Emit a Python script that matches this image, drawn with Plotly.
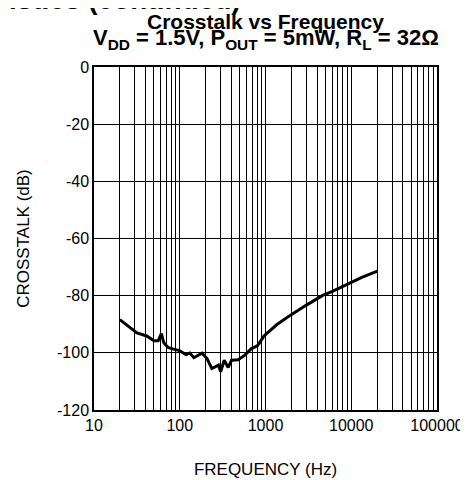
import plotly.graph_objects as go

freq_hz = [20, 31.7, 41.2, 50, 56, 61, 65, 73, 83, 99, 118, 131, 146, 182, 208, 237, 283, 300,
           330, 367, 402, 478, 570, 680, 810, 960, 1361, 1937, 2997, 4645, 6039, 9360, 13270, 20190]
crosstalk_db = [-88.4, -93.0, -94.1, -95.8, -95.8, -93.3, -96.4, -98.1, -98.6, -99.2, -100.6, -100.1,
                -101.7, -100.1, -102.0, -105.5, -104.3, -106.6, -102.6, -105.1, -102.6, -102.4,
                -100.9, -98.6, -97.5, -94.1, -90.1, -86.9, -83.3, -79.9, -78.5, -75.9, -73.6, -71.4]

x_major = [10, 100, 1000, 10000, 100000]
x_major_text = ["10", "100", "1000", "10000", "100000"]
x_minor = [m * d for d in [10, 100, 1000, 10000] for m in range(2, 10)]
y_ticks = [0, -20, -40, -60, -80, -100, -120]
y_tick_text = ["0", "-20", "-40", "-60", "-80", "-100", "-120"]

FONT = "Liberation Sans, Arial, sans-serif"

fig = go.Figure()
fig.add_trace(go.Scatter(x=freq_hz, y=crosstalk_db, mode="lines",
                         line=dict(color="black", width=3), showlegend=False))

fig.update_layout(
    width=468, height=480,
    margin=dict(l=86, r=31, t=59, b=68),
    paper_bgcolor="white", plot_bgcolor="white",
    font=dict(family=FONT, size=16, color="black"),
    xaxis=dict(type="log", range=[1, 5], tickvals=x_major, ticktext=x_major_text,
               showgrid=True, gridcolor="black", gridwidth=1,
               minor=dict(tickvals=x_minor, showgrid=True, gridcolor="black", gridwidth=1, ticks=""),
               showline=True, linecolor="black", linewidth=1.5, mirror=True,
               ticks="", tickfont=dict(size=16),
               title=dict(text="FREQUENCY (Hz)", font=dict(size=17), standoff=30)),
    yaxis=dict(range=[-120, 0], tickvals=y_ticks, ticktext=y_tick_text,
               showgrid=True, gridcolor="black", gridwidth=1, zeroline=False,
               showline=True, linecolor="black", linewidth=1.5, mirror=True,
               ticks="", tickfont=dict(size=16),
               title=dict(text="CROSSTALK (dB)", font=dict(size=17), standoff=23)),
)

fig.add_annotation(text="<b>Typical Performance Characteristics (continued)</b>",
                   xref="paper", yref="paper", x=(238 - 86) / 351, y=(412 - 8) / 353,
                   xanchor="right", yanchor="bottom", showarrow=False,
                   font=dict(family=FONT, size=28))
fig.add_annotation(text="<b>Crosstalk vs Frequency</b>",
                   xref="paper", yref="paper", x=0.5, y=(412 - 12.5) / 353,
                   xanchor="center", yanchor="middle", showarrow=False,
                   font=dict(family=FONT, size=21))
fig.add_annotation(text="<b>V<sub>DD</sub> = 1.5V, P<sub>OUT</sub> = 5mW, R<sub>L</sub> = 32Ω</b>",
                   xref="paper", yref="paper", x=0.5, y=(412 - 30) / 353,
                   xanchor="center", yanchor="middle", showarrow=False,
                   font=dict(family=FONT, size=22))

fig.write_html("out.html")
